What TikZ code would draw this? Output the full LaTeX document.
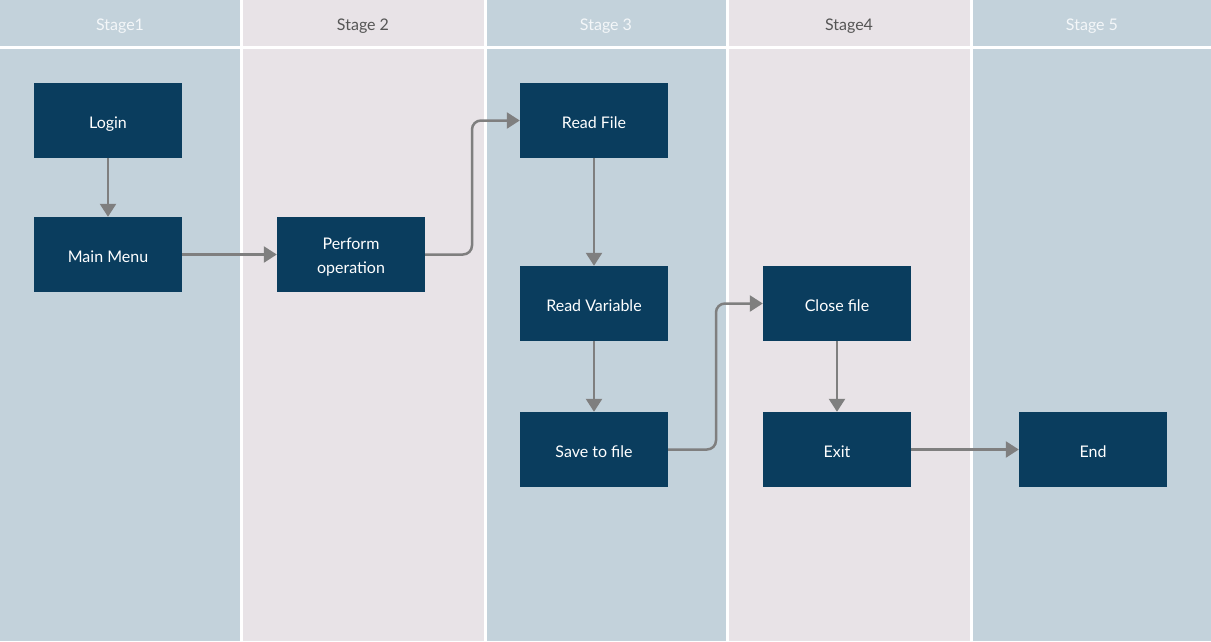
\documentclass[tikz,border=0pt]{standalone}
\usepackage{fontspec}
\setmainfont{Lato}
\usetikzlibrary{arrows.meta}
\definecolor{laneblue}{HTML}{C3D2DB}
\definecolor{lanepink}{HTML}{E8E3E7}
\definecolor{boxnavy}{HTML}{0A3D5E}
\definecolor{arrowgray}{HTML}{7F7F7F}
\definecolor{hdrlight}{HTML}{F4F7F9}
\definecolor{hdrdark}{HTML}{555555}
\tikzset{
  procbox/.style={fill=boxnavy, draw=none, minimum width=148pt, minimum height=75pt,
    text=white, align=center, font=\fontsize{16}{24}\selectfont, inner sep=0pt},
  oneline/.style={text height=16pt, text depth=0pt},
  flow/.style={draw=arrowgray, line width=2.5pt, rounded corners=9pt,
    -{Triangle[length=13pt,width=16pt]}},
  hdr/.style={font=\fontsize{16}{18}\selectfont, anchor=base}
}
\begin{document}
\begin{tikzpicture}[x=1pt,y=-1pt]
\useasboundingbox (0,0) rectangle (1211,641);
\fill[white] (0,0) rectangle (1211,641);
% lanes
\fill[laneblue] (0,0) rectangle (240,46);
\fill[laneblue] (0,49) rectangle (240,641);
\fill[lanepink] (243,0) rectangle (484,46);
\fill[lanepink] (243,49) rectangle (484,641);
\fill[laneblue] (487,0) rectangle (726,46);
\fill[laneblue] (487,49) rectangle (726,641);
\fill[lanepink] (729,0) rectangle (970,46);
\fill[lanepink] (729,49) rectangle (970,641);
\fill[laneblue] (973,0) rectangle (1211,46);
\fill[laneblue] (973,49) rectangle (1211,641);
% headers
\node[hdr, text=hdrlight] (h1) at (120,30) {Stage1};
\node[hdr, text=hdrdark] (h2) at (363,30) {Stage 2};
\node[hdr, text=hdrlight] (h3) at (606,30) {Stage 3};
\node[hdr, text=hdrdark] (h4) at (849,30) {Stage4};
\node[hdr, text=hdrlight] (h5) at (1092,30) {Stage 5};
% boxes
\node[procbox, oneline] (login) at (108,120.5) {Login};
\node[procbox, oneline] (menu) at (108,254.5) {Main Menu};
\node[procbox] (perf) at (351,254.5) {\rule{0pt}{17pt}Perform\\operation};
\node[procbox, oneline] (rfile) at (594,120.5) {Read File};
\node[procbox, oneline] (rvar) at (594,303.5) {Read Variable};
\node[procbox, oneline] (save) at (594,449.5) {Save to file};
\node[procbox, oneline] (close) at (837,303.5) {Close file};
\node[procbox, oneline] (exit) at (837,449.5) {Exit};
\node[procbox, oneline] (endn) at (1093,449.5) {End};
% connectors
\draw[flow] (login.south) -- (menu.north);
\draw[flow] (menu.east) -- (perf.west);
\draw[flow] (perf.east) -- (472,254.5) -- (472,120.5) -- (rfile.west);
\draw[flow] (rfile.south) -- (rvar.north);
\draw[flow] (rvar.south) -- (save.north);
\draw[flow] (save.east) -- (716,449.5) -- (716,303.5) -- (close.west);
\draw[flow] (close.south) -- (exit.north);
\draw[flow] (exit.east) -- (endn.west);
\end{tikzpicture}
\end{document}
